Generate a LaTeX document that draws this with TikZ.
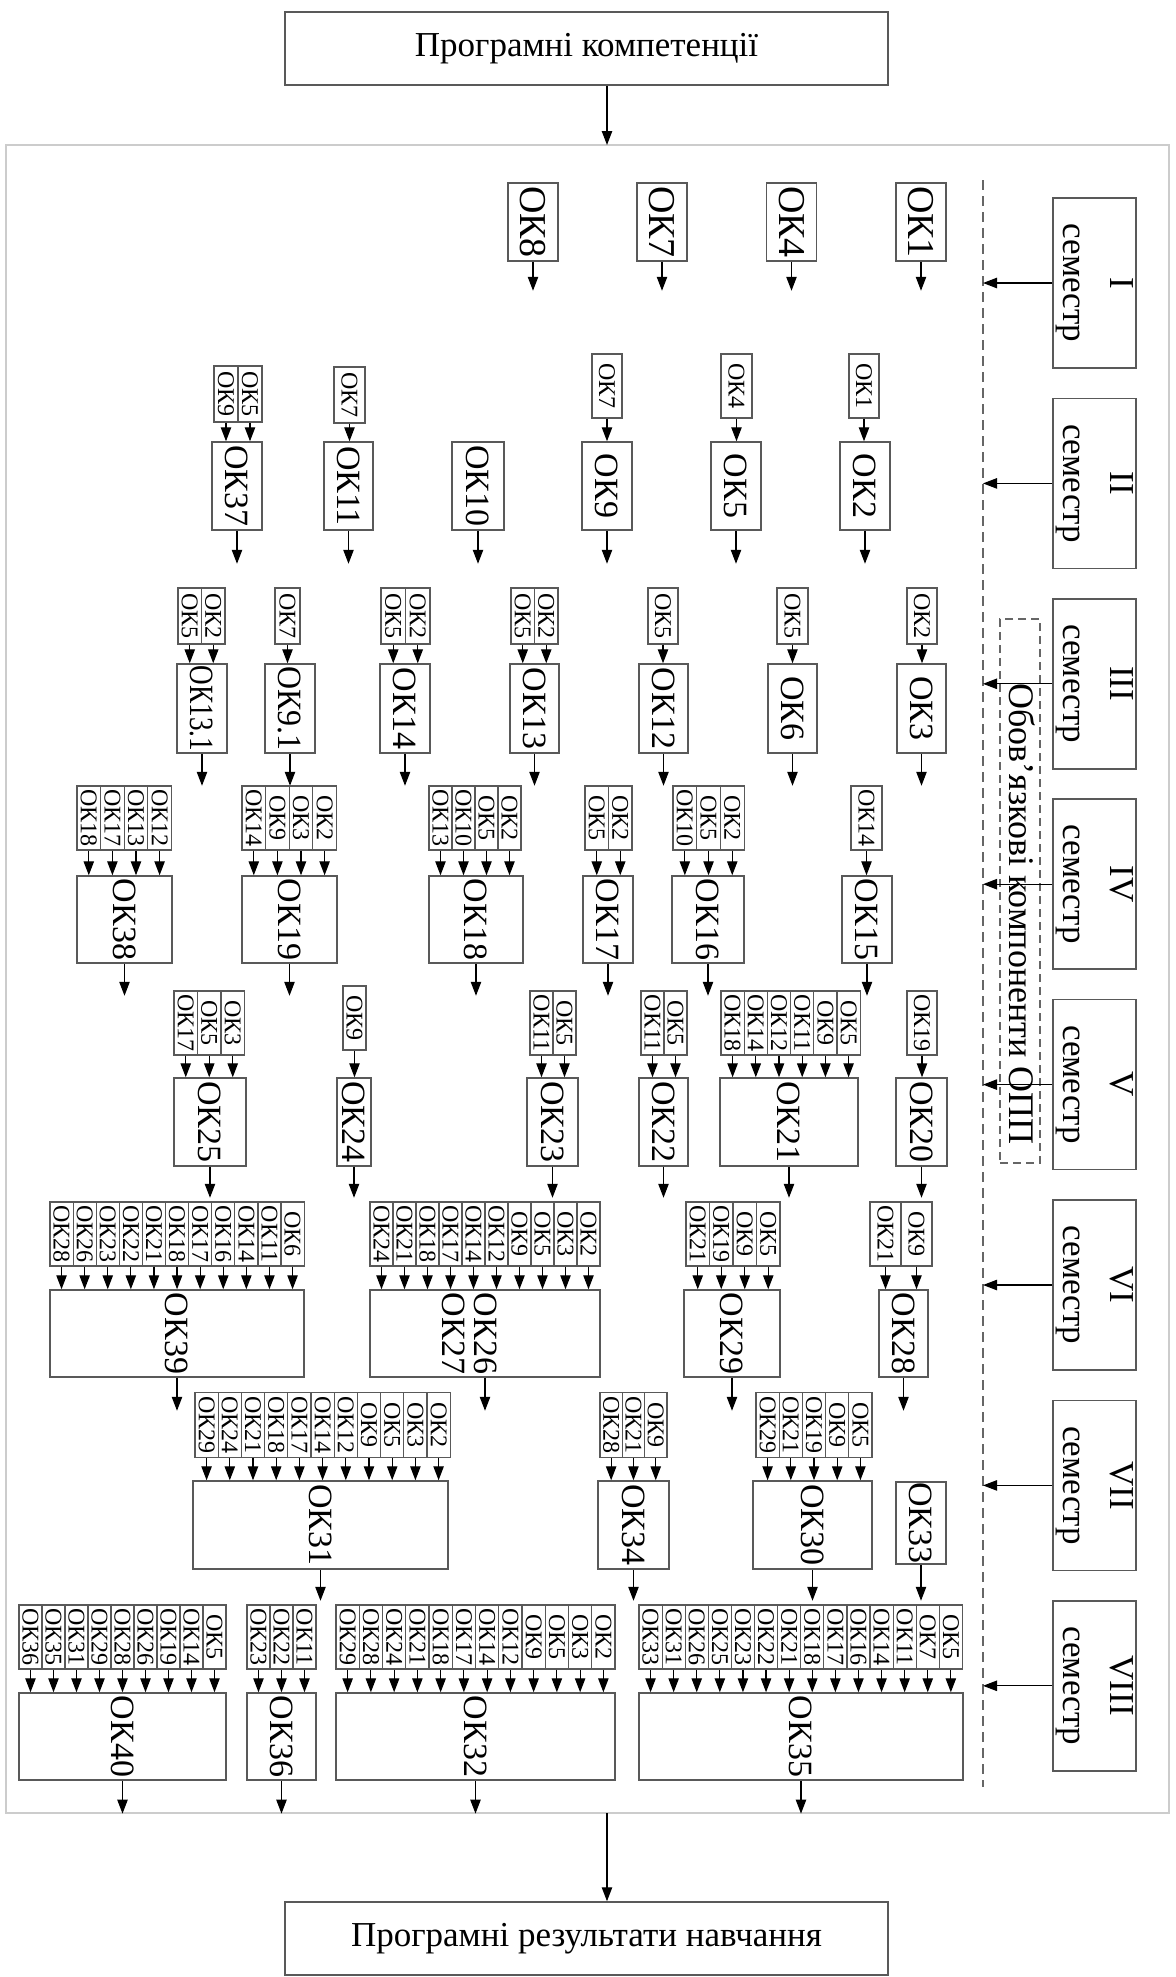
\documentclass[tikz,border=0pt]{standalone}
\usepackage{fontspec}
\setmainfont{Liberation Serif}
\usepackage{graphicx}
\usetikzlibrary{arrows.meta}

\begin{document}
\begin{tikzpicture}[x=0.5pt, y=-0.5pt,
        >={Triangle[length=7pt,width=5.2pt]},
        okbox/.style={draw=black!65, line width=.75pt, inner sep=0pt, font=\fontsize{17}{18}\selectfont},
        okcell/.style={draw=black!65, line width=.6pt, inner sep=0pt, font=\fontsize{12}{13}\selectfont},
        sembox/.style={draw=black!65, line width=.75pt, inner sep=0pt, rotate=-90, align=center,
                minimum width=85pt, minimum height=41.5pt, font=\fontsize{17.5}{23.5}\selectfont},
        widebox/.style={draw=black!65, line width=.75pt, inner sep=0pt, minimum width=301.5pt,
                minimum height=36.5pt, font=\fontsize{17.5}{20}\selectfont}]
        \useasboundingbox (0,0) rectangle (1175,1977);
        \node[draw=black!20, line width=.6pt, minimum width=581.5pt, minimum height=834pt, inner sep=0pt] (frame) at (587.5,979) {};
        \node[widebox] (comp) at (586.5,48.5) {Програмні компетенції};
        \node[widebox] (res) at (586.5,1938.5) {Програмні результати навчання};
        \coordinate (entry) at (607,145);
        \coordinate (exit) at (607,1813);
        \draw[->, semithick] (comp.south -| entry) -- (entry);
        \draw[->, semithick] (exit) -- (exit |- res.north);
        \coordinate (dtop) at (983,180);
        \coordinate (dbot) at (983,1787);
        \draw[black!60, semithick, dash pattern=on 5pt off 3pt] (dtop) -- (dbot);
        \node[draw=black!60, line width=.6pt, dash pattern=on 4pt off 2.5pt, minimum width=20pt, minimum height=272pt, inner sep=0pt] (opp) at (1020,891) {};
        \node[inner sep=0pt, font=\fontsize{18}{20}\selectfont] (opptext) at (1022,914) {\rotatebox{-90}{Обов’язкові компоненти ОПП}};
        \foreach \r/\s in {1/I,2/II,3/III,4/IV,5/V,6/VI,7/VII,8/VIII} {
                \node[sembox] (sem\r) at (1094.5,{283+(\r-1)*200.4}) {\s\\семестр};
                \draw[->, semithick] (sem\r) -- (sem\r -| dtop);
        }

        \node[okbox, minimum width=25pt, minimum height=39pt, font=\fontsize{19}{20}\selectfont] (ok8) at (533,222) {\rotatebox{-90}{ОК8}};
        \node[okbox, minimum width=25pt, minimum height=39pt, font=\fontsize{19}{20}\selectfont] (ok7) at (662,222) {\rotatebox{-90}{ОК7}};
        \node[okbox, minimum width=25pt, minimum height=39pt, font=\fontsize{19}{20}\selectfont] (ok4) at (791.5,222) {\rotatebox{-90}{ОК4}};
        \node[okbox, minimum width=25pt, minimum height=39pt, font=\fontsize{19}{20}\selectfont] (ok1) at (921,222) {\rotatebox{-90}{ОК1}};
        \foreach \n in {ok8,ok7,ok4,ok1}
        \draw[->, semithick] (\n.south) -- ++(0,29);

        \node[okbox, minimum width=25pt, minimum height=44pt] (ok37) at (237,486) {\rotatebox{-90}{ОК37}};
        \node[okbox, minimum width=24.5pt, minimum height=44pt] (ok11) at (348.5,486) {\rotatebox{-90}{ОК11}};
        \node[okbox, minimum width=26pt, minimum height=44pt] (ok10) at (478,486) {\rotatebox{-90}{ОК10}};
        \node[okbox, minimum width=25pt, minimum height=44pt] (ok9) at (607,486) {\rotatebox{-90}{ОК9}};
        \node[okbox, minimum width=25pt, minimum height=44pt] (ok5) at (736,486) {\rotatebox{-90}{ОК5}};
        \node[okbox, minimum width=25pt, minimum height=44pt] (ok2) at (865,486) {\rotatebox{-90}{ОК2}};
        \foreach \n in {ok37,ok11,ok10,ok9,ok5,ok2}
        \draw[->, semithick] (\n.south) -- ++(0,33);

        \node[okbox, minimum width=25pt, minimum height=44.5pt] (ok13a) at (202,708.5) {\rotatebox{-90}{\scalebox{.8}[1]{ОК13.1}}};
        \node[okbox, minimum width=25pt, minimum height=44.5pt] (ok91) at (290,708.5) {\rotatebox{-90}{\scalebox{.94}[1]{ОК9.1}}};
        \node[okbox, minimum width=25pt, minimum height=44.5pt] (ok14) at (405,708.5) {\rotatebox{-90}{ОК14}};
        \node[okbox, minimum width=24.5pt, minimum height=44.5pt] (ok13) at (534.5,708.5) {\rotatebox{-90}{ОК13}};
        \node[okbox, minimum width=24.5pt, minimum height=44.5pt] (ok12) at (663.5,708.5) {\rotatebox{-90}{ОК12}};
        \node[okbox, minimum width=24.5pt, minimum height=44.5pt] (ok6) at (792.5,708.5) {\rotatebox{-90}{ОК6}};
        \node[okbox, minimum width=24.5pt, minimum height=44.5pt] (ok3) at (921.5,708.5) {\rotatebox{-90}{ОК3}};
        \foreach \n in {ok13a,ok91,ok14,ok13,ok12,ok6,ok3}
        \draw[->, semithick] (\n.south) -- ++(0,32);

        \node[okbox, minimum width=47.5pt, minimum height=43.5pt] (ok38) at (124.5,919.5) {\rotatebox{-90}{ОК38}};
        \node[okbox, minimum width=47.5pt, minimum height=43.5pt] (ok19) at (289.5,919.5) {\rotatebox{-90}{ОК19}};
        \node[okbox, minimum width=47pt, minimum height=43.5pt] (ok18) at (476,919.5) {\rotatebox{-90}{ОК18}};
        \node[okbox, minimum width=25pt, minimum height=43.5pt] (ok17) at (608,919.5) {\rotatebox{-90}{ОК17}};
        \node[okbox, minimum width=36pt, minimum height=43.5pt] (ok16) at (708,919.5) {\rotatebox{-90}{ОК16}};
        \node[okbox, minimum width=25pt, minimum height=43.5pt] (ok15) at (867,919.5) {\rotatebox{-90}{ОК15}};
        \foreach \n in {ok38,ok19,ok18,ok17,ok16,ok15}
        \draw[->, semithick] (\n.south) -- ++(0,32);

        \node[okbox, minimum width=36pt, minimum height=44pt] (ok25) at (210,1122) {\rotatebox{-90}{ОК25}};
        \node[okbox, minimum width=17pt, minimum height=44pt] (ok24) at (354,1122) {\rotatebox{-90}{ОК24}};
        \node[okbox, minimum width=25.5pt, minimum height=44pt] (ok23) at (552.5,1122) {\rotatebox{-90}{ОК23}};
        \node[okbox, minimum width=24.5pt, minimum height=44pt] (ok22) at (663.5,1122) {\rotatebox{-90}{ОК22}};
        \node[okbox, minimum width=69pt, minimum height=44pt] (ok21) at (789,1122) {\rotatebox{-90}{ОК21}};
        \node[okbox, minimum width=25.5pt, minimum height=44pt] (ok20) at (921.5,1122) {\rotatebox{-90}{ОК20}};
        \foreach \n in {ok25,ok24,ok23,ok22,ok21,ok20}
        \draw[->, semithick] (\n.south) -- ++(0,31);

        \node[okbox, minimum width=127pt, minimum height=43.5pt] (ok39) at (177,1333.5) {\rotatebox{-90}{ОК39}};
        \node[okbox, minimum width=115pt, minimum height=43.5pt] (ok26) at (485,1333.5) {};
        \node[inner sep=0pt, font=\fontsize{17}{15}\selectfont] (ok26text) at (465,1333.5) {\rotatebox{-90}{\begin{tabular}{@{}c@{}}ОК26\\ОК27\end{tabular}}};
        \node[okbox, minimum width=48pt, minimum height=43.5pt] (ok29) at (732,1333.5) {\rotatebox{-90}{ОК29}};
        \node[okbox, minimum width=24.5pt, minimum height=43.5pt] (ok28) at (903.5,1333.5) {\rotatebox{-90}{ОК28}};
        \foreach \n in {ok39,ok26,ok29,ok28}
        \draw[->, semithick] (\n.south) -- ++(0,33);

        \node[okbox, minimum width=127.5pt, minimum height=44pt] (ok31) at (320.5,1525) {\rotatebox{-90}{ОК31}};
        \node[okbox, minimum width=35.5pt, minimum height=44pt] (ok34) at (633.5,1525) {\rotatebox{-90}{ОК34}};
        \node[okbox, minimum width=59.5pt, minimum height=44pt] (ok30) at (812.5,1525) {\rotatebox{-90}{ОК30}};
        \node[okbox, minimum width=25pt, minimum height=41pt] (ok33) at (921,1523) {\rotatebox{-90}{ОК33}};
        \foreach \n in {ok31,ok34,ok30}
        \draw[->, semithick] (\n.south) -- ++(0,31);
        \draw[->, semithick] (ok33.south) -- ++(0,36);

        \node[okbox, minimum width=103.5pt, minimum height=43.5pt] (ok40) at (122.5,1736.5) {\rotatebox{-90}{ОК40}};
        \node[okbox, minimum width=34.5pt, minimum height=43.5pt] (ok36) at (281.5,1736.5) {\rotatebox{-90}{ОК36}};
        \node[okbox, minimum width=139.5pt, minimum height=43.5pt] (ok32) at (475.5,1736.5) {\rotatebox{-90}{ОК32}};
        \node[okbox, minimum width=162pt, minimum height=43.5pt] (ok35) at (801,1736.5) {\rotatebox{-90}{ОК35}};
        \foreach \n in {ok40,ok36,ok32,ok35}
        \draw[->, semithick] (\n.south) -- (\n.south |- frame.south);

        \foreach \n/\x/\w/\y/\h/\lst in {
                ok37/214/24/394/56/{ОК9,ОК5},
                ok11/334/31/395/56/{ОК7},
                ok9/592/30/386/64/{ОК7},
                ok5/721/31/386/64/{ОК4},
                ok2/849/30/386/64/{ОК1},
                ok13a/178/23.5/616/56/{ОК5,ОК2},
                ok91/275/25/616/56/{ОК7},
                ok14/381/24.5/616/56/{ОК5,ОК2},
                ok13/511/23.5/616/56/{ОК5,ОК2},
                ok12/648/30/616/56/{ОК5},
                ok6/777/31/616/56/{ОК5},
                ok3/907/30/616/56/{ОК2},
                ok38/77/23.6/818/64/{ОК18,ОК17,ОК13,ОК12},
                ok19/242/23.6/818/64/{ОК14,ОК9,ОК3,ОК2},
                ok18/429/23/818/64/{ОК13,ОК10,ОК5,ОК2},
                ok17/585/23.5/818/64/{ОК5,ОК2},
                ok16/673/23.7/818/64/{ОК10,ОК5,ОК2},
                ok15/851/31/818/64/{ОК14},
                ok25/174/23.5/1023/64/{ОК17,ОК5,ОК3},
                ok24/343/23/1018/64/{ОК9},
                ok23/530/23/1023/64/{ОК11,ОК5},
                ok22/641/23/1023/64/{ОК11,ОК5},
                ok21/721/23.2/1023/64/{ОК18,ОК14,ОК12,ОК11,ОК9,ОК5},
                ok20/907/30/1023/64/{ОК19},
                ok39/50/23.1/1234/64/{ОК28,ОК26,ОК23,ОК22,ОК21,ОК18,ОК17,ОК16,ОК14,ОК11,ОК6},
                ok26/370/23/1234/64/{ОК24,ОК21,ОК18,ОК17,ОК14,ОК12,ОК9,ОК5,ОК3,ОК2},
                ok29/686/23.5/1234/64/{ОК21,ОК19,ОК9,ОК5},
                ok28/870/31/1234/64/{ОК21,ОК9},
                ok31/195/23.2/1425/65/{ОК29,ОК24,ОК21,ОК18,ОК17,ОК14,ОК12,ОК9,ОК5,ОК3,ОК2},
                ok34/600/22.3/1425/65/{ОК28,ОК21,ОК9},
                ok30/756/23.2/1425/65/{ОК29,ОК21,ОК19,ОК9,ОК5},
                ok40/19/23/1637/64/{ОК36,ОК35,ОК31,ОК29,ОК28,ОК26,ОК19,ОК14,ОК5},
                ok36/247/23/1637/64/{ОК23,ОК22,ОК11},
                ok32/336/23.25/1637/64/{ОК29,ОК28,ОК24,ОК21,ОК18,ОК17,ОК14,ОК12,ОК9,ОК5,ОК3,ОК2},
                ok35/639/23.1/1637/64/{ОК33,ОК31,ОК26,ОК25,ОК23,ОК22,ОК21,ОК18,ОК17,ОК16,ОК14,ОК11,ОК7,ОК5}}
        \foreach \t [count=\i] in \lst {
                \node[okcell, minimum width={\w*.5pt}, minimum height={\h*.5pt}] (\n-\i) at ({\x+(\i-.5)*\w},\y) {\rotatebox{-90}{\t}};
                \draw[->, semithick] (\n-\i) -- (\n-\i |- \n.north);
        }
\end{tikzpicture}
\end{document}
